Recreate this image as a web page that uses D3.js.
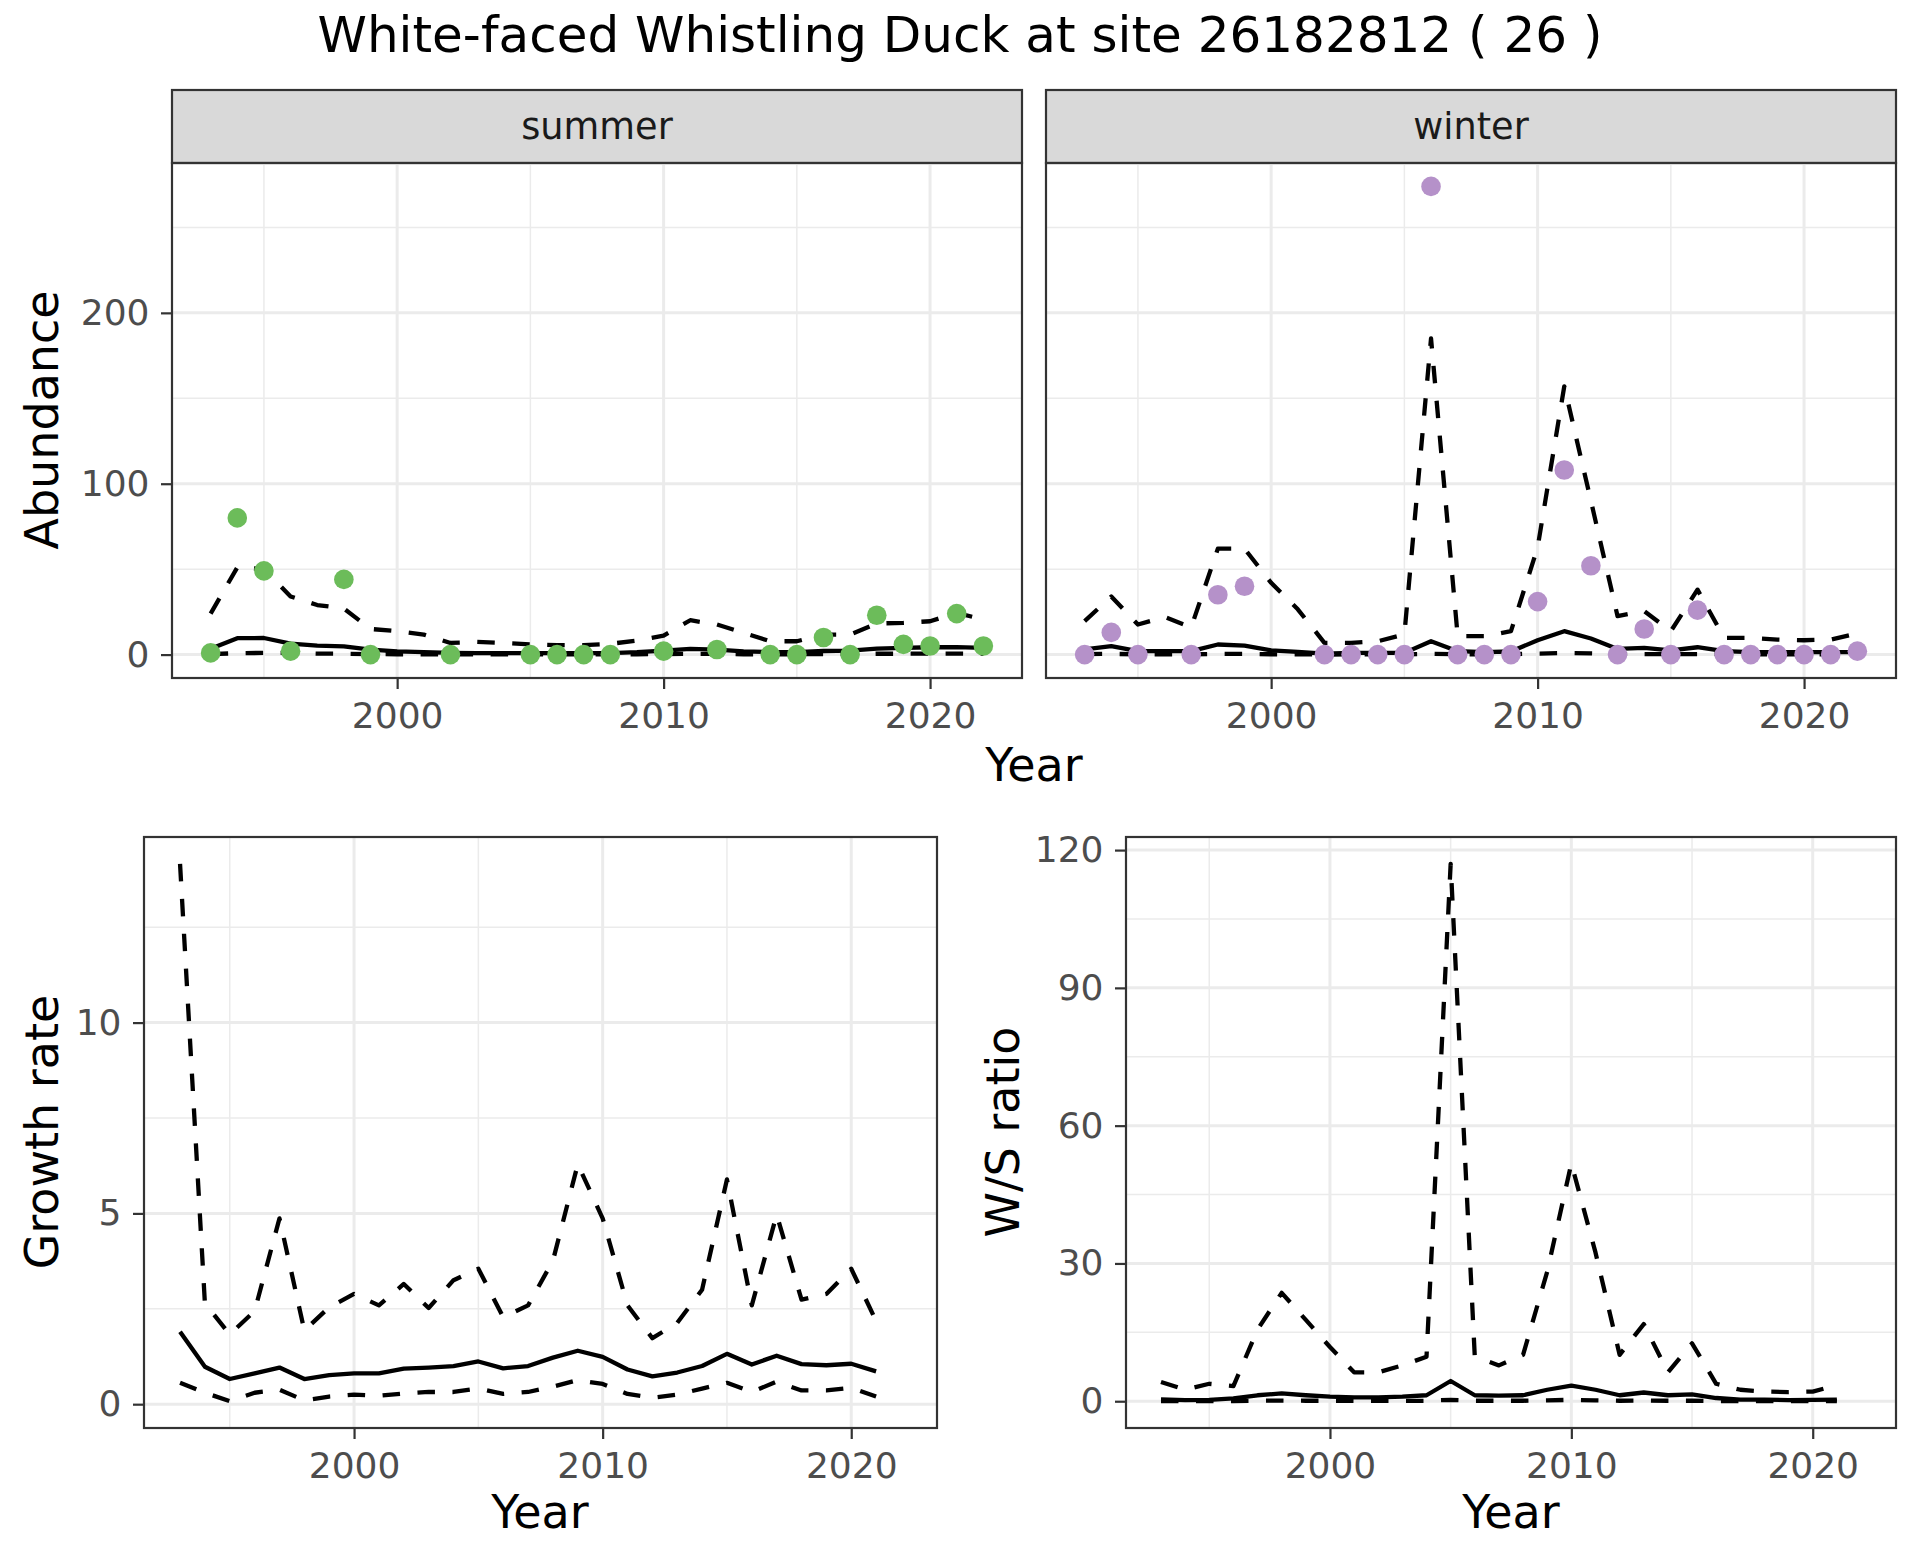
<!DOCTYPE html>
<html><head><meta charset="utf-8">
<script src="https://cdn.jsdelivr.net/npm/d3@7"></script>
<style>body{margin:0;background:#fff} text{font-family:"DejaVu Sans",sans-serif}</style>
</head><body>
<svg id="c" width="1920" height="1560"></svg>
<script>
// ---------- data ----------
const yearsTop = [1993,1994,1995,1996,1997,1998,1999,2000,2001,2002,2003,2004,2005,2006,2007,2008,2009,2010,2011,2012,2013,2014,2015,2016,2017,2018,2019,2020,2021,2022];
const yearsBottom = [1993,1994,1995,1996,1997,1998,1999,2000,2001,2002,2003,2004,2005,2006,2007,2008,2009,2010,2011,2012,2013,2014,2015,2016,2017,2018,2019,2020,2021];

const summerObs   = [1,80,49,2,null,44,0,null,null,0,null,null,0,0,0,0,null,2,null,3,null,0,0,10,0,23,6,5,24,5];
const summerFit   = [3.4,9.6,9.7,6.4,5.2,4.8,2.9,1.9,1.4,1.0,0.8,0.8,0.8,0.8,0.8,0.9,1.4,2.3,3.3,2.9,1.9,1.5,1.5,2.1,2.3,3.5,3.9,4.3,4.4,3.9];
const summerLower = [0.3,0.8,1.0,1.0,0.6,0.5,0.3,0.2,0.1,0.1,0.1,0.1,0.1,0.1,0.1,0.1,0.2,0.3,0.4,0.4,0.2,0.2,0.2,0.3,0.3,0.5,0.5,0.6,0.6,0.5];
const summerUpper = [24,51,50,34,29,27,15,13.7,11.7,6.8,7.4,6.8,5.9,5.5,5.5,6.3,8.2,11.1,20.1,17.6,12.7,7.8,7.8,11.7,11.7,18.2,18.6,19.5,24.4,20.5];

const winterObs   = [0,13,0,null,0,35,40,null,null,0,0,0,0,274,0,0,0,31,108,52,0,15,0,26,0,0,0,0,0,2];
const winterFit   = [3,5,2,2,2,5.9,5.3,2.5,1.6,0.6,1,1,1,7.8,2,1.4,1.8,8.4,13.7,9.4,3.3,3.9,2.5,4.3,2,1.4,1.4,1.4,1.4,1.5];
const winterLower = [0.3,0.4,0.2,0.2,0.2,0.4,0.4,0.2,0.1,0.05,0.1,0.1,0.1,0.4,0.2,0.1,0.2,0.6,0.9,0.7,0.3,0.3,0.2,0.3,0.2,0.1,0.1,0.1,0.1,0.1];
const winterUpper = [19.6,34,17.6,22,16,62,62,42,26.5,6.9,6.9,7.8,11.8,185,10.8,10.8,13.7,62.7,157,90,22.5,25.5,13.7,38,9.8,9.8,8.8,8.4,8.8,12.4];

const growthFit   = [1.9,0.98,0.66,0.81,0.96,0.66,0.76,0.81,0.81,0.93,0.96,1.0,1.12,0.94,1.0,1.22,1.4,1.24,0.91,0.73,0.83,1.0,1.32,1.04,1.27,1.05,1.02,1.06,0.86];
const growthUpper = [14.16,2.64,1.83,2.44,4.87,1.93,2.54,2.89,2.59,3.15,2.52,3.25,3.55,2.28,2.59,3.76,6.29,4.87,2.59,1.73,2.13,3.0,5.89,2.59,4.97,2.74,2.89,3.55,2.18];
const growthLower = [0.56,0.3,0.08,0.3,0.38,0.1,0.2,0.25,0.22,0.28,0.32,0.32,0.41,0.27,0.32,0.46,0.63,0.53,0.27,0.17,0.25,0.41,0.56,0.32,0.59,0.36,0.36,0.43,0.2];

const ratioFit    = [0.4,0.25,0.3,0.6,1.3,1.7,1.3,1.0,0.85,0.85,1.0,1.3,4.4,1.3,1.2,1.3,2.5,3.4,2.5,1.3,1.9,1.3,1.5,0.7,0.35,0.35,0.25,0.3,0.35];
const ratioUpper  = [4.2,2.5,3.8,3.3,15.6,23.6,17.7,11.8,6.3,6.3,7.8,9.7,117,9.7,7.8,10.1,28.2,51.8,32.4,10.1,16.8,6.3,12.6,3.8,2.5,2.1,2.0,2.1,3.5];
const ratioLower  = [0.05,0.03,0.03,0.05,0.1,0.15,0.1,0.1,0.08,0.07,0.08,0.1,0.3,0.1,0.1,0.1,0.2,0.3,0.2,0.1,0.15,0.1,0.1,0.05,0.03,0.03,0.02,0.03,0.03];

const yearTicks = [2000,2010,2020];
const yearMinor = [1995,2005,2015];
const abundanceTicks = [0,100,200];
const abundanceMinor = [50,150,250];
const growthTicks = [0,5,10];
const growthMinor = [2.5,7.5,12.5];
const ratioTicks = [0,30,60,90,120];
const ratioMinor = [15,45,75,105];

const titleText = "White-faced Whistling Duck at site 26182812 ( 26 )";
const seasonLabels = ["summer","winter"];
const seasonColors = ["#6CBC5A","#B591C9"];

// ---------- helpers ----------
const TICK_FONT = 36, AXIS_TITLE_FONT = 46, STRIP_FONT = 36.7, TITLE_FONT = 50;
const svg = d3.select("#c");
svg.append("rect").attr("width",1920).attr("height",1560).attr("fill","#fff");

function expand(vals){
  const e = d3.extent(vals.filter(v=>v!=null));
  const r = e[1]-e[0];
  return [e[0]-0.05*r, e[1]+0.05*r];
}
const xDomain = expand(yearsTop);

function panel(o){
  const g = svg.append("g");
  const x = d3.scaleLinear().domain(o.xd).range([o.x0,o.x1]);
  const y = d3.scaleLinear().domain(o.yd).range([o.y1,o.y0]);
  g.selectAll(null).data(o.xMinor).join("line")
    .attr("x1",d=>x(d)).attr("x2",d=>x(d)).attr("y1",o.y0).attr("y2",o.y1)
    .attr("stroke","#EBEBEB").attr("stroke-width",1.5);
  g.selectAll(null).data(o.yMinor).join("line")
    .attr("y1",d=>y(d)).attr("y2",d=>y(d)).attr("x1",o.x0).attr("x2",o.x1)
    .attr("stroke","#EBEBEB").attr("stroke-width",1.5);
  g.selectAll(null).data(o.xTicks).join("line")
    .attr("x1",d=>x(d)).attr("x2",d=>x(d)).attr("y1",o.y0).attr("y2",o.y1)
    .attr("stroke","#EBEBEB").attr("stroke-width",3);
  g.selectAll(null).data(o.yTicks).join("line")
    .attr("y1",d=>y(d)).attr("y2",d=>y(d)).attr("x1",o.x0).attr("x2",o.x1)
    .attr("stroke","#EBEBEB").attr("stroke-width",3);
  o.series.forEach(s=>{
    const line = d3.line().defined(d=>d[1]!=null).x(d=>x(d[0])).y(d=>y(d[1]));
    g.append("path").datum(o.years.map((yr,i)=>[yr,s.v[i]]))
      .attr("d",line).attr("fill","none").attr("stroke","#000")
      .attr("stroke-width",4.3).attr("stroke-linejoin","round")
      .attr("stroke-dasharray",s.dash?"17.5,17.5":null);
  });
  if(o.points){
    g.selectAll(null).data(o.years.map((yr,i)=>[yr,o.points[i]]).filter(d=>d[1]!=null)).join("circle")
      .attr("cx",d=>x(d[0])).attr("cy",d=>y(d[1])).attr("r",9.8).attr("fill",o.color);
  }
  g.append("rect").attr("x",o.x0).attr("y",o.y0).attr("width",o.x1-o.x0).attr("height",o.y1-o.y0)
    .attr("fill","none").attr("stroke","#333333").attr("stroke-width",2.2);
  const ax = g.append("g").attr("transform",`translate(0,${o.y1})`)
    .call(d3.axisBottom(x).tickValues(o.xTicks).tickFormat(d3.format("d")).tickSize(11).tickPadding(13));
  styleAxis(ax);
  if(o.showY){
    const ay = g.append("g").attr("transform",`translate(${o.x0},0)`)
      .call(d3.axisLeft(y).tickValues(o.yTicks).tickFormat(d3.format("d")).tickSize(11).tickPadding(11.5));
    styleAxis(ay);
  }
  return {x,y};
}
function styleAxis(a){
  a.select(".domain").remove();
  a.selectAll(".tick line").attr("stroke","#333333").attr("stroke-width",2.2);
  a.selectAll(".tick text").attr("fill","#4D4D4D").attr("font-size",TICK_FONT)
    .attr("font-family","DejaVu Sans");
}
function text(x,y,t,size,opts={}){
  const el = svg.append("text").attr("x",x).attr("y",y).text(t)
    .attr("font-size",size).attr("fill",opts.fill||"#000")
    .attr("text-anchor",opts.anchor||"middle");
  if(opts.rotate) el.attr("transform",`rotate(-90,${x},${y})`);
  return el;
}

// ---------- title ----------
text(960,52,titleText,TITLE_FONT);

// ---------- top facets ----------
const topY = expand([...summerObs,...summerFit,...summerLower,...summerUpper,...winterObs,...winterFit,...winterLower,...winterUpper]);
const facets = [
  {x0:172,x1:1022,obs:summerObs,fit:summerFit,lo:summerLower,up:summerUpper,showY:true},
  {x0:1046,x1:1896,obs:winterObs,fit:winterFit,lo:winterLower,up:winterUpper,showY:false}
];
facets.forEach((f,i)=>{
  svg.append("rect").attr("x",f.x0).attr("y",90).attr("width",f.x1-f.x0).attr("height",73)
    .attr("fill","#D9D9D9").attr("stroke","#333333").attr("stroke-width",2.2);
  text((f.x0+f.x1)/2,139,seasonLabels[i],STRIP_FONT,{fill:"#1A1A1A"});
  panel({x0:f.x0,x1:f.x1,y0:163,y1:678,xd:xDomain,yd:topY,years:yearsTop,
    xTicks:yearTicks,xMinor:yearMinor,yTicks:abundanceTicks,yMinor:abundanceMinor,
    series:[{v:f.lo,dash:true},{v:f.up,dash:true},{v:f.fit,dash:false}],
    points:f.obs,color:seasonColors[i],showY:f.showY});
});
text(1034,781,"Year",AXIS_TITLE_FONT);
text(58,420,"Abundance",AXIS_TITLE_FONT,{rotate:true});

// ---------- growth rate ----------
panel({x0:144,x1:937,y0:837,y1:1428,xd:xDomain,
  yd:expand([...growthFit,...growthUpper,...growthLower]),years:yearsBottom,
  xTicks:yearTicks,xMinor:yearMinor,yTicks:growthTicks,yMinor:growthMinor,
  series:[{v:growthLower,dash:true},{v:growthUpper,dash:true},{v:growthFit,dash:false}],showY:true});
text(540,1528,"Year",AXIS_TITLE_FONT);
text(58,1132,"Growth rate",AXIS_TITLE_FONT,{rotate:true});

// ---------- W/S ratio ----------
panel({x0:1126,x1:1896,y0:837,y1:1428,xd:xDomain,
  yd:expand([...ratioFit,...ratioUpper,...ratioLower]),years:yearsBottom,
  xTicks:yearTicks,xMinor:yearMinor,yTicks:ratioTicks,yMinor:ratioMinor,
  series:[{v:ratioLower,dash:true},{v:ratioUpper,dash:true},{v:ratioFit,dash:false}],showY:true});
text(1511,1528,"Year",AXIS_TITLE_FONT);
text(1019,1132,"W/S ratio",AXIS_TITLE_FONT,{rotate:true});
</script>
</body></html>
